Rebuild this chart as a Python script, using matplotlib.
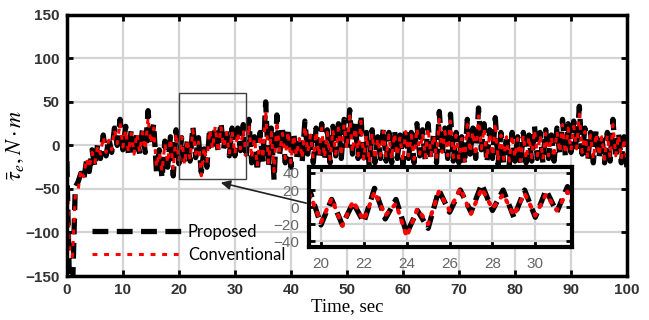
import matplotlib
matplotlib.use('Agg')
import matplotlib.pyplot as plt
from matplotlib.patches import Rectangle
import numpy as np

time_s = np.arange(0, 100.01, 0.5)

proposed = [
    -18, -170, -170, -48, -42, -32, -40, -18, -30, -5,
    -25, 2, -15, 12, -12, 8, -8, 20, 0, 30,
    -5, 22, -10, 18, -12, 15, -10, 18, -8, 40,
    0, 25, -30, -5, -38, 5, -25, 10, -35, 18,
    -21, 9, -21, 5, -18, 22, -14, 9, -31, -4,
    -25, 20, -6, 20, -6, 27, -4, 20, -12, 20,
    -12, 20, -6, 24, -15, 30, -20, 10, -30, 15,
    -20, 50, -25, 20, -40, 35, -10, 18, -20, 20,
    -25, 15, -15, 10, -20, 28, -10, 15, -20, 20,
    -15, 25, -18, 18, -20, 22, -12, 25, -15, 30,
    -5, 41, -10, 25, -15, 35, -20, 15, -25, 18,
    -20, 10, -15, 20, -18, 15, -20, 18, -15, 12,
    -22, 20, -15, 15, -20, 25, -12, 18, -18, 25,
    -15, 15, -20, 39, -10, 20, -15, 36, -18, 15,
    -20, 10, -22, 30, -10, 20, -15, 43, -5, 25,
    -20, 18, -15, 32, -22, 15, -20, 12, -22, 15,
    -18, 10, -22, 15, -20, 12, -18, 22, -15, 15,
    -20, 18, -15, 12, -18, 20, -10, 30, -12, 25,
    -8, 28, -5, 45, -10, 20, -18, 15, -20, 18,
    -15, 12, -20, 15, -18, 30, -15, 15, -20, 10,
    -25,
]

conventional = [
    -22, -125, -128, -58, -52, -28, -36, -15, -26, -8,
    -20, 0, -10, 10, -8, 6, -5, 18, 2, 26,
    -2, 18, -8, 14, -10, 14, -8, 15, -5, 32,
    2, 20, -25, -8, -30, 2, -20, 8, -28, 14,
    -18, 10, -22, 7, -16, 18, -10, 4, -35, -2,
    -20, 18, -4, 22, -8, 22, -2, 15, -10, 16,
    -10, 15, -4, 18, -12, 24, -15, 8, -24, 12,
    -15, 40, -20, 15, -30, 28, -8, 14, -15, 16,
    -20, 12, -12, 8, -15, 22, -8, 12, -15, 16,
    -12, 20, -14, 15, -16, 18, -10, 20, -12, 24,
    -4, 34, -8, 20, -12, 28, -16, 12, -20, 14,
    -16, 8, -12, 16, -14, 12, -16, 14, -12, 10,
    -18, 16, -12, 12, -16, 20, -10, 14, -14, 20,
    -12, 12, -16, 30, -8, 16, -12, 28, -14, 12,
    -16, 8, -18, 24, -8, 16, -12, 34, -4, 20,
    -16, 14, -12, 26, -18, 12, -16, 10, -18, 12,
    -14, 8, -18, 12, -16, 10, -14, 18, -12, 12,
    -16, 14, -12, 10, -14, 16, -8, 24, -10, 20,
    -6, 22, -4, 36, -8, 16, -14, 12, -16, 14,
    -12, 10, -16, 12, -14, 24, -12, 12, -16, 8,
    -20,
]

x_ticks = list(range(0, 101, 10))
y_ticks = list(range(-150, 151, 50))
inset_x_ticks = [20, 22, 24, 26, 28, 30]
inset_y_ticks = [-40, -20, 0, 20, 40]

plt.rcParams['mathtext.fontset'] = 'stix'

fig = plt.figure(figsize=(6.49, 3.2), dpi=100)
ax = fig.add_axes([0.103, 0.1375, 0.863, 0.816])

ax.plot(time_s, proposed, color='black', lw=3.8, dashes=(3.0, 1.6), label='Proposed')
ax.plot(time_s, conventional, color='red', lw=2.2, dashes=(1.6, 2.2), label='Conventional')

ax.set_xlim(0, 100)
ax.set_ylim(-150, 150)
ax.set_xticks(x_ticks)
ax.set_yticks(y_ticks)
ax.grid(True, color='#d3d3d3', lw=1.6)
ax.set_axisbelow(True)
for lbl in ax.get_xticklabels() + ax.get_yticklabels():
    lbl.set_fontweight('bold')
    lbl.set_family('Liberation Sans')
    lbl.set_fontsize(11)
    lbl.set_color('#333333')
ax.tick_params(direction='in', length=4, width=2, top=True, right=True, pad=5)
for sp in ax.spines.values():
    sp.set_linewidth(2.5)

ax.set_xlabel('Time, sec', family='Liberation Serif', fontsize=13.5, labelpad=1)
ax.set_ylabel(r'$\bar{\tau}_e, N\cdot m$', fontsize=16, labelpad=0)

ax.add_patch(Rectangle((20, -38), 12, 98, fill=False, edgecolor='#404040', lw=1, zorder=5))
ax.annotate('', xy=(27, -42), xytext=(43.2, -67),
            arrowprops=dict(arrowstyle='-|>', color='#202020', lw=1.2, mutation_scale=14),
            zorder=5)

leg = ax.legend(loc='lower left', bbox_to_anchor=(0.024, 0.005), frameon=False,
                handlelength=5.4, prop={'family': 'Lato', 'size': 12},
                labelspacing=0.45, handletextpad=0.35, borderpad=0.2)

# zoomed inset
axi = fig.add_axes([0.476, 0.228, 0.405, 0.25])
axi.plot(time_s, proposed, color='black', lw=3.8, dashes=(2.6, 1.4))
axi.plot(time_s, conventional, color='red', lw=3, dashes=(0.6, 2.0), dash_capstyle='round')
axi.set_xlim(19.44, 31.7)
axi.set_ylim(-47, 47)
axi.set_xticks(inset_x_ticks)
axi.set_yticks(inset_y_ticks)
axi.grid(True, color='#d3d3d3', lw=1.6)
axi.set_axisbelow(True)
axi.tick_params(direction='in', length=4, width=2, top=True, right=True,
                labelsize=11, labelcolor='#666666', pad=7)
for lbl in axi.get_xticklabels() + axi.get_yticklabels():
    lbl.set_family('Liberation Sans')
for sp in axi.spines.values():
    sp.set_linewidth(3)

fig.savefig('out.png', dpi=100)
